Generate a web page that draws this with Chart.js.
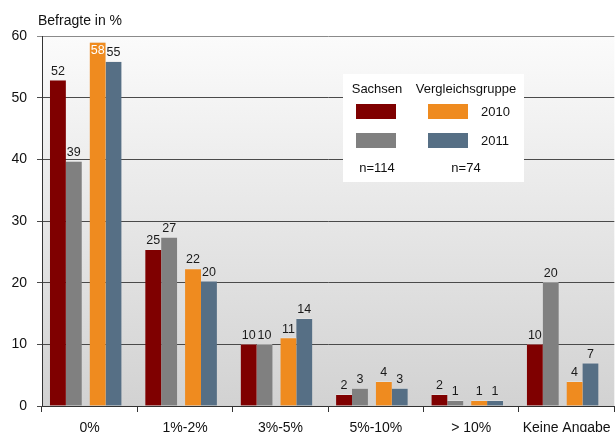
<!DOCTYPE html>
<html>
<head>
<meta charset="utf-8">
<script src="https://cdn.jsdelivr.net/npm/chart.js@4/dist/chart.umd.min.js"></script>
<style>
  html, body { margin: 0; padding: 0; background: #fff; overflow: hidden; }
  /* the original plot runs a few pixels past the right edge */
  #wrap { width: 619px; height: 432px; position: relative; }
</style>
</head>
<body>
<div id="wrap"><canvas id="myChart"></canvas></div>
<script>
// categories + values (bar heights), printed labels separately
const categories = ['0%', '1%-2%', '3%-5%', '5%-10%', '> 10%', 'Keine Angabe'];
const sachsen2010 = [52.9, 25.4, 10.1, 1.9, 1.9, 10.1];
const sachsen2011 = [39.7, 27.4, 10.0, 2.9, 0.9, 20.1];
const vergleich2010 = [59.0, 22.3, 11.1, 4.0, 0.9, 4.0];
const vergleich2011 = [55.9, 20.3, 14.2, 2.9, 0.9, 7.0];
const sachsen2010Labels = [52, 25, 10, 2, 2, 10];
const sachsen2011Labels = [39, 27, 10, 3, 1, 20];
const vergleich2010Labels = [58, 22, 11, 4, 1, 4];
const vergleich2011Labels = [55, 20, 14, 3, 1, 7];
const yTicks = [0, 10, 20, 30, 40, 50, 60];

const colors = {red: '#7f0000', gray: '#808080', orange: '#ef8b1f', blue: '#566f85'};
const FONT = '"Liberation Sans", Arial, sans-serif';

// where each series sits inside its category (fraction of a category, from centre)
// pairs are a bit left of centre with a small gap between them, like the original
const slot = 1 / 6;
function series(label, values, printed, color, shift) {
    return {
        label: label,
        data: values.map((v, i) => ({x: i + shift, y: v})),
        printed: printed,
        backgroundColor: color,
        borderColor: 'rgba(230,230,230,0.6)',
        borderWidth: {top: 1, left: 0, right: 0, bottom: 0},
        grouped: false,
        categoryPercentage: 1,
        barPercentage: 1,
        xAxisID: 'x'
    };
}

const datasets = [
    series('Sachsen 2010', sachsen2010, sachsen2010Labels, colors.red, -2 * slot),
    series('Sachsen 2011', sachsen2011, sachsen2011Labels, colors.gray, -1 * slot),
    series('Vergleichsgruppe 2010', vergleich2010, vergleich2010Labels, colors.orange, 0.5 * slot),
    series('Vergleichsgruppe 2011', vergleich2011, vergleich2011Labels, colors.blue, 1.5 * slot),
];

// gray gradient behind the plot
const bgPlugin = {
    id: 'bg',
    beforeDraw(chart) {
        const {ctx, chartArea: a} = chart;
        const g = ctx.createLinearGradient(0, a.top, 0, a.bottom);
        g.addColorStop(0, '#fbfbfb');
        g.addColorStop(1, '#d2d2d2');
        ctx.save();
        ctx.fillStyle = g;
        ctx.fillRect(a.left, a.top, a.right - a.left, a.bottom - a.top);
        ctx.restore();
    }
};

// numbers above bars, title, and the little legend box
const labelPlugin = {
    id: 'labels',
    afterDatasetsDraw(chart) {
        const ctx = chart.ctx;
        ctx.save();
        ctx.font = '12.5px ' + FONT;
        ctx.textAlign = 'center';
        chart.data.datasets.forEach((ds, i) => {
            const meta = chart.getDatasetMeta(i);
            meta.data.forEach((bar, j) => {
                const txt = String(ds.printed[j]);
                if (bar.y - 16 < chart.chartArea.top) {
                    ctx.fillStyle = '#ffffff';
                    ctx.textBaseline = 'top';
                    ctx.fillText(txt, bar.x, bar.y + 2);
                } else {
                    ctx.fillStyle = '#1a1a1a';
                    ctx.textBaseline = 'alphabetic';
                    ctx.fillText(txt, bar.x, bar.y - 5);
                }
            });
        });
        ctx.restore();
    },
    afterDraw(chart) {
        const ctx = chart.ctx;
        ctx.save();
        ctx.fillStyle = '#111';
        ctx.font = '14px ' + FONT;
        ctx.textAlign = 'left';
        ctx.textBaseline = 'alphabetic';
        ctx.fillText('Befragte in %', 38, 25);

        // legend box
        ctx.fillStyle = '#ffffff';
        ctx.fillRect(343, 74, 181, 108);
        ctx.font = '13px ' + FONT;
        ctx.fillStyle = '#111';
        ctx.textAlign = 'center';
        ctx.textBaseline = 'middle';
        ctx.fillText('Sachsen', 377, 89);
        ctx.fillText('Vergleichsgruppe', 466, 89);
        ctx.fillText('n=114', 377, 168);
        ctx.fillText('n=74', 466, 168);
        ctx.textAlign = 'left';
        ctx.fillText('2010', 481, 112);
        ctx.fillText('2011', 481, 141);
        ctx.fillStyle = colors.red;    ctx.fillRect(356, 104, 40, 15);
        ctx.fillStyle = colors.gray;   ctx.fillRect(356, 133, 40, 15);
        ctx.fillStyle = colors.orange; ctx.fillRect(428, 104, 40, 15);
        ctx.fillStyle = colors.blue;   ctx.fillRect(428, 133, 40, 15);
        ctx.restore();
    }
};

var ctx = document.getElementById('myChart');
var myChart = new Chart(ctx, {
    type: 'bar',
    data: {labels: categories, datasets: datasets},
    options: {
        responsive: true,
        maintainAspectRatio: false,
        animation: false,
        layout: {padding: {top: 36, left: 0, right: 0, bottom: 0}},
        plugins: {legend: {display: false}, tooltip: {enabled: false}},
        scales: {
            // bars live on a hidden linear axis, -0.5..5.5 = six categories
            x: {
                type: 'linear',
                min: -0.5, max: 5.5,
                display: false,
                offset: false
            },
            // the visible category axis gives labels and boundary ticks
            cat: {
                type: 'category',
                axis: 'x',
                position: 'bottom',
                labels: categories,
                offset: true,
                grid: {display: true, drawOnChartArea: false, drawTicks: true, tickLength: 6, color: '#333', offset: true},
                border: {display: true, color: '#333', width: 1},
                ticks: {color: '#111', font: {family: FONT, size: 14}, padding: 8, maxRotation: 0, autoSkip: false},
                afterFit(scale) { scale.height = 26; }
            },
            y: {
                min: 0, max: 60,
                afterBuildTicks(scale) { scale.ticks = yTicks.map(v => ({value: v})); },
                grid: {
                    color: (c) => c.tick && c.tick.value === 60 ? '#8a8a8a' : '#4a4a4a',
                    lineWidth: 1, tickLength: 5, drawTicks: true
                },
                border: {display: true, color: '#333', width: 1},
                ticks: {color: '#111', font: {family: FONT, size: 14}, padding: 10},
                afterFit(scale) { scale.width = 42; }
            }
        }
    },
    plugins: [bgPlugin, labelPlugin]
});
</script>
</body>
</html>
